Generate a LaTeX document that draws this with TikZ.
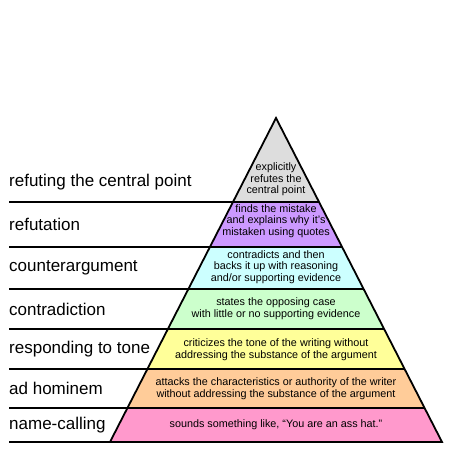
\documentclass[tikz,border=0pt]{standalone}
\usepackage{fontspec}
\setmainfont{Liberation Sans}

\definecolor{topgray}{HTML}{DDDDDD}
\definecolor{refutpurple}{HTML}{CC99FF}
\definecolor{countercyan}{HTML}{CCFFFF}
\definecolor{contragreen}{HTML}{CCFFCC}
\definecolor{toneyellow}{HTML}{FFFF99}
\definecolor{adhomorange}{HTML}{FFCC99}
\definecolor{namepink}{HTML}{FF99CC}

\begin{document}
\begin{tikzpicture}[x=1pt,y=-1pt,
    level/.style={anchor=west,inner sep=0pt,font=\fontsize{17}{20}\selectfont},
    desc/.style={align=center,inner sep=0pt,font=\fontsize{10.8}{11.7}\selectfont}]
    \useasboundingbox (0,0) rectangle (450,450);

    % Corners of the pyramid
    \coordinate (apex) at (276,118);
    \coordinate (bl) at (110,442);
    \coordinate (br) at (442,442);

    % Fill the bands inside the pyramid
    \begin{scope}
        \clip (apex) -- (bl) -- (br) -- cycle;
        \fill[topgray] (100,110) rectangle (450,201.7);
        \fill[refutpurple] (100,201.7) rectangle (450,246.7);
        \fill[countercyan] (100,246.7) rectangle (450,289);
        \fill[contragreen] (100,289) rectangle (450,329);
        \fill[toneyellow] (100,329) rectangle (450,369.3);
        \fill[adhomorange] (100,369.3) rectangle (450,407.7);
        \fill[namepink] (100,407.7) rectangle (450,442);
    \end{scope}

    % Draw the dividing lines
    \foreach \y in {201.7,246.7,289,329,369.3,407.7,442}
        \draw[line width=1.8pt] (9,\y) -- ({276+(\y-118)/324*166},\y);

    % Draw the pyramid outline
    \draw[line width=1.8pt,line join=miter] (apex) -- (bl) -- (br) -- cycle;

    % Label the levels
    \node[level] (rcp) at (9,182) {refuting the central point};
    \node[level] (refut) at (9,224.5) {refutation};
    \node[level] (counter) at (9,268) {counterargument};
    \node[level] (contra) at (9,309) {contradiction};
    \node[level] (tone) at (9,349) {responding to tone};
    \node[level] (adhom) at (9,388.5) {ad hominem};
    \node[level] (namecall) at (9,425) {name-calling};

    % Describe each level
    \node[desc] (rcpdesc) at (276,179.5) {explicitly\\refutes the\\central point};
    \node[desc] (refutdesc) at (276,221) {finds the mistake\\and explains why it's\\mistaken using quotes};
    \node[desc] (counterdesc) at (276,267) {contradicts and then\\backs it up with reasoning\\and/or supporting evidence};
    \node[desc] (contradesc) at (276,309) {states the opposing case\\with little or no supporting evidence};
    \node[desc] (tonedesc) at (276,350) {criticizes the tone of the writing without\\addressing the substance of the argument};
    \node[desc] (adhomdesc) at (276,388.5) {attacks the characteristics or authority of the writer\\without addressing the substance of the argument};
    \node[desc] (namecalldesc) at (276,424.5) {sounds something like, “You are an ass hat.”};

\end{tikzpicture}
\end{document}
